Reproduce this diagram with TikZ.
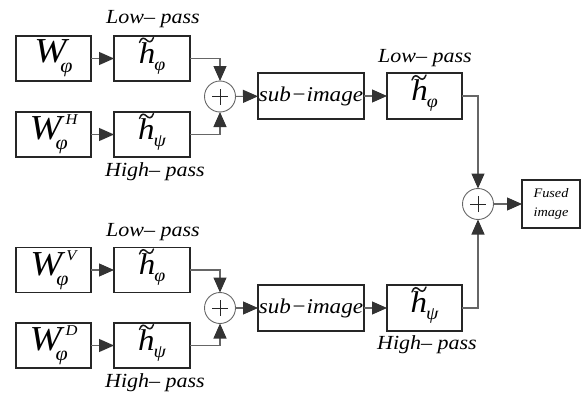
\documentclass[tikz,border=0pt]{standalone}
\usepackage{fontspec}
\setmainfont{Liberation Serif}[FakeStretch=1.1]
\usetikzlibrary{arrows.meta}
\newcommand{\myWsub}{{\fontsize{35}{35}\selectfont\itshape W}\kern-6pt\raisebox{-10pt}{\fontsize{20}{20}\selectfont\itshape φ}}
\newcommand{\myWsup}[1]{{\fontsize{35}{35}\selectfont\itshape W}\rlap{\kern-6pt\raisebox{-10pt}{\fontsize{20}{20}\selectfont\itshape φ}}\kern4pt\raisebox{15pt}{\fontsize{15}{15}\selectfont\itshape #1}}
\newcommand{\myh}[1]{{\fontsize{30}{30}\selectfont\itshape h}\kern-1pt\raisebox{-7pt}{\fontsize{18}{18}\selectfont\itshape #1}}
\newcommand{\tildeon}[1]{\draw[black!90, line width=1.5pt, line cap=round]
  ([xshift=-12.5pt,yshift=16pt]#1.center) .. controls ([xshift=-10.5pt,yshift=22pt]#1.center) and ([xshift=-7.5pt,yshift=20.5pt]#1.center) .. ([xshift=-5.5pt,yshift=18.5pt]#1.center)
  .. controls ([xshift=-3.5pt,yshift=16.5pt]#1.center) and ([xshift=-0.5pt,yshift=15pt]#1.center) .. ([xshift=1.5pt,yshift=21pt]#1.center);}
\tikzset{
  blk/.style={draw=black!85, line width=1.2pt, minimum height=45pt, inner sep=0pt, outer sep=0pt},
  wbox/.style={blk, minimum width=75pt},
  hbox/.style={blk, minimum width=76pt},
  sbox/.style={blk, minimum width=106pt, minimum height=46pt, font=\fontsize{21}{21}\selectfont\itshape},
  lbl/.style={font=\fontsize{20}{20}\selectfont\itshape, inner sep=0pt},
  sumnode/.style={circle, draw=black!60, line width=0.9pt, minimum size=31pt, inner sep=0pt, outer sep=0pt,
    path picture={\draw[black!85, line width=0.9pt]
      ([xshift=-8pt]path picture bounding box.center) -- ([xshift=8pt]path picture bounding box.center)
      ([yshift=-8pt]path picture bounding box.center) -- ([yshift=8pt]path picture bounding box.center);}},
  conn/.style={draw=black!60, line width=1.1pt, -{Triangle[length=15pt,width=13pt,color=black!80]}},
}
\begin{document}
\begin{tikzpicture}[x=1pt,y=-1pt]
\useasboundingbox (0,0) rectangle (583,396);
% upper branch
\node[wbox] (Wa) at (53.5,58.5) {\myWsub};
\node[hbox] (ha) at (152,58.5) {\myh{φ}};
\node[wbox] (Wb) at (53.5,134.5) {\myWsup{H}};
\node[hbox] (hb) at (152,134.5) {\myh{ψ}};
\node[lbl] (la) at (153,19) {Low– pass};
\node[lbl] (lb) at (155,172) {High– pass};
\node[sumnode] (s1) at (220,96.5) {};
\node[sbox] (sub1) at (311,96) {sub−image};
\node[hbox, minimum width=75pt, minimum height=46pt] (hr1) at (424.5,96) {\myh{φ}};
\node[lbl] (lr1) at (425,58) {Low– pass};
% lower branch
\node[wbox] (Wc) at (53.5,270) {\myWsup{V}};
\node[hbox] (hc) at (152,270) {\myh{φ}};
\node[wbox] (Wd) at (53.5,345.5) {\myWsup{D}};
\node[hbox] (hd) at (152,345.5) {\myh{ψ}};
\node[lbl] (lc) at (153,232) {Low– pass};
\node[lbl] (ld) at (155,383) {High– pass};
\node[sumnode] (s2) at (220,308) {};
\node[sbox] (sub2) at (311,308) {sub−image};
\node[hbox, minimum width=75pt, minimum height=46pt] (hr2) at (424.5,308) {\myh{ψ}};
\node[lbl] (lr2) at (427,345) {High– pass};
% output
\node[sumnode] (s3) at (478,204) {};
\node[blk, minimum width=58pt, minimum height=48pt, align=center, font=\fontsize{13}{19}\selectfont\itshape] (fz) at (551,204) {Fused\\image};
% tildes
\tildeon{ha}
\tildeon{hb}
\tildeon{hc}
\tildeon{hd}
\tildeon{hr1}
\tildeon{hr2}
% connectors
\draw[conn] (Wa) -- (ha);
\draw[conn] (Wb) -- (hb);
\draw[conn] (Wc) -- (hc);
\draw[conn] (Wd) -- (hd);
\draw[conn] (ha.east) -| (s1.north);
\draw[conn] (hb.east) -| (s1.south);
\draw[conn] (hc.east) -| (s2.north);
\draw[conn] (hd.east) -| (s2.south);
\draw[conn] (s1) -- (sub1);
\draw[conn] (s2) -- (sub2);
\draw[conn] (sub1) -- (hr1);
\draw[conn] (sub2) -- (hr2);
\draw[conn] (hr1.east) -| (s3.north);
\draw[conn] (hr2.east) -| (s3.south);
\draw[conn] (s3) -- (fz);
\end{tikzpicture}
\end{document}
